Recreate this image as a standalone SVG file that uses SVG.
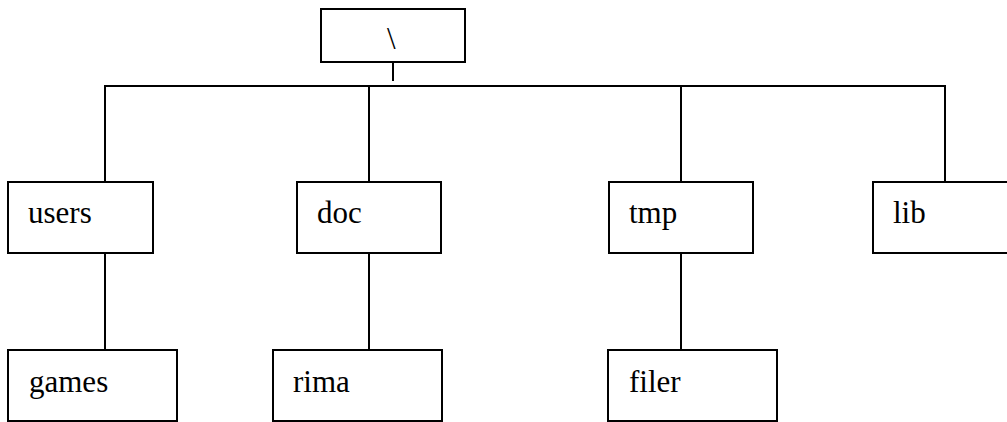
<svg xmlns="http://www.w3.org/2000/svg" width="1007" height="422" viewBox="0 0 1007 422">
<style>
.box{fill:#fff;stroke:#000;stroke-width:2}
.lbl{font-family:'Liberation Serif','Times New Roman',Times,'DejaVu Serif',serif;font-size:31px;fill:#000}
.con line{stroke:#000;stroke-width:2}
</style>
<rect width="1007" height="422" fill="#fff"/>
<g class="con" id="connectors">
<line x1="393" y1="62" x2="393" y2="81"/>
<line x1="104" y1="86" x2="946" y2="86"/>
<line x1="105" y1="86" x2="105" y2="182"/>
<line x1="369" y1="86" x2="369" y2="182"/>
<line x1="681" y1="86" x2="681" y2="182"/>
<line x1="945" y1="86" x2="945" y2="182"/>
<line x1="105" y1="253" x2="105" y2="350"/>
<line x1="369" y1="253" x2="369" y2="350"/>
<line x1="681" y1="253" x2="681" y2="350"/>
</g>
<g id="root"><rect class="box" x="321" y="9" width="144" height="53"/><text class="lbl" font-family="Liberation Serif, serif" x="387" y="49">\</text></g>
<g id="users"><rect class="box" x="8" y="182" width="145" height="71"/><text class="lbl" font-family="Liberation Serif, serif" x="28" y="223">users</text></g>
<g id="doc"><rect class="box" x="297" y="182" width="144" height="71"/><text class="lbl" font-family="Liberation Serif, serif" x="317" y="223">doc</text></g>
<g id="tmp"><rect class="box" x="609" y="182" width="144" height="71"/><text class="lbl" font-family="Liberation Serif, serif" x="629" y="223">tmp</text></g>
<g id="lib"><rect class="box" x="873" y="182" width="144" height="71"/><text class="lbl" font-family="Liberation Serif, serif" x="893" y="223">lib</text></g>
<g id="games"><rect class="box" x="8" y="350" width="169" height="71"/><text class="lbl" font-family="Liberation Serif, serif" x="29" y="392">games</text></g>
<g id="rima"><rect class="box" x="273" y="350" width="169" height="71"/><text class="lbl" font-family="Liberation Serif, serif" x="293" y="392">rima</text></g>
<g id="filer"><rect class="box" x="608" y="350" width="169" height="71"/><text class="lbl" font-family="Liberation Serif, serif" x="629" y="392">filer</text></g>
</svg>
